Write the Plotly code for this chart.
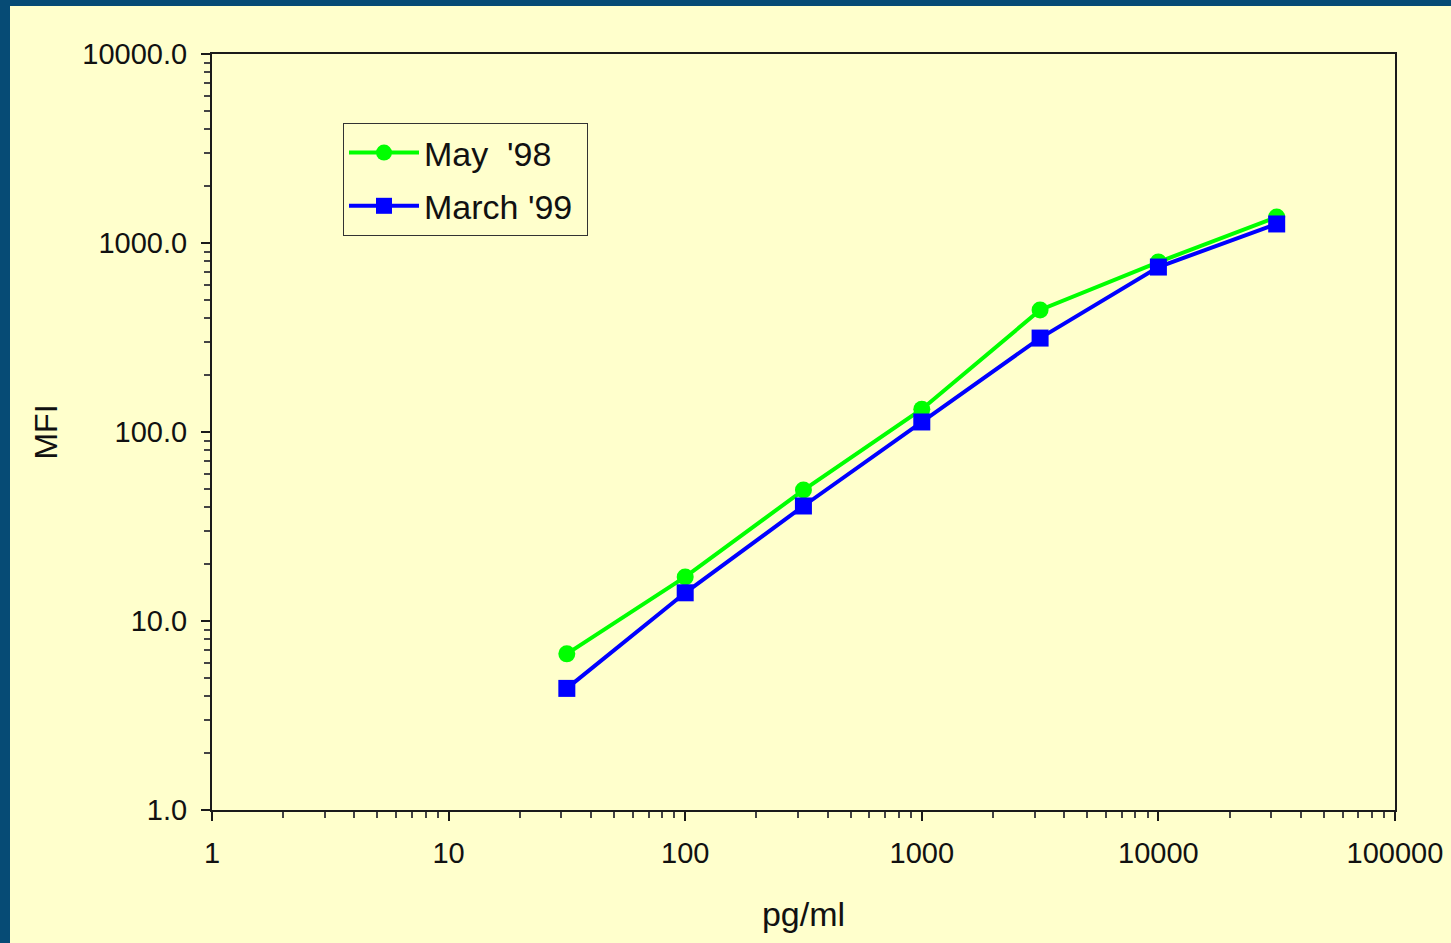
import plotly.graph_objects as go

conc = [31.6, 100, 316, 1000, 3162, 10000, 31623]
may98 = [6.7, 17.1, 49.3, 132, 442, 793, 1373]
mar99 = [4.4, 14.1, 40.6, 113, 314, 746, 1261]

x_ticks = [1, 10, 100, 1000, 10000, 100000]
x_labels = ["1", "10", "100", "1000", "10000", "100000"]
y_ticks = [1, 10, 100, 1000, 10000]
y_labels = ["1.0", "10.0", "100.0", "1000.0", "10000.0"]

W, H = 1451, 943
L, R, T, B = 212, 56, 54, 133
FONT = "Liberation Sans"
BG = "#FFFFCC"
EDGE = "#064B75"

x_minor = [m * 10 ** k for k in range(0, 5) for m in range(2, 10)]
y_minor = [m * 10 ** k for k in range(0, 4) for m in range(2, 10)]

fig = go.Figure()
fig.add_trace(go.Scatter(
    x=conc, y=may98, name="May  '98\u00a0", mode="lines+markers", legendgroup="a",
    line=dict(color="#00FF00", width=4),
    marker=dict(symbol="circle", size=17, color="#00FF00"),
))
fig.add_trace(go.Scatter(
    x=conc, y=mar99, name="March '99\u00a0", mode="lines+markers", legendgroup="b",
    line=dict(color="#0000FF", width=4),
    marker=dict(symbol="square", size=17, color="#0000FF"),
))

pw = W - L - R
ph = H - T - B
# dark border on top and left (slide edge)
fig.add_shape(type="rect", xref="paper", yref="paper",
              x0=-L / pw, x1=(10 - L) / pw, y0=-B / ph, y1=(H - B) / ph,
              fillcolor=EDGE, line_width=0, layer="below")
fig.add_shape(type="rect", xref="paper", yref="paper",
              x0=-L / pw, x1=(W - L) / pw, y0=(H - B - 6) / ph, y1=(H - B) / ph,
              fillcolor=EDGE, line_width=0, layer="below")

axis_common = dict(
    showgrid=False, zeroline=False, showline=True, linecolor="#1a1a1a",
    linewidth=2, mirror=True, ticks="outside", tickcolor="#1a1a1a",
    tickwidth=1.5, ticklen=9, tickfont=dict(family=FONT, size=29, color="#111"),
    automargin=False,
)

fig.update_xaxes(
    type="log", range=[0, 5], tickvals=x_ticks, ticktext=x_labels,
    title=dict(text="pg/ml", font=dict(family=FONT, size=34, color="#111"), standoff=34),
    minor=dict(ticks="outside", tickvals=x_minor, ticklen=6, tickcolor="#444", tickwidth=1.5),
    ticklabelstandoff=7,
    **axis_common,
)
fig.update_yaxes(
    type="log", range=[0, 4], tickvals=y_ticks, ticktext=y_labels,
    title=dict(text="MFI", font=dict(family=FONT, size=32, color="#111"), standoff=15),
    minor=dict(ticks="outside", tickvals=y_minor, ticklen=6, tickcolor="#444", tickwidth=1.5),
    ticklabelstandoff=8,
    **axis_common,
)

fig.update_layout(
    width=W, height=H,
    margin=dict(l=L, r=R, t=T, b=B),
    paper_bgcolor=BG, plot_bgcolor=BG,
    showlegend=True,
    legend=dict(
        x=(343 - L) / pw, y=(H - B - 123) / ph, xanchor="left", yanchor="top",
        bgcolor=BG, bordercolor="#333", borderwidth=1,
        font=dict(family=FONT, size=34, color="#111"),
        itemwidth=70, traceorder="grouped", tracegroupgap=6,
    ),
)

fig.write_html("out.html", post_script="document.body.style.margin='0';",
               config={"displayModeBar": False})
